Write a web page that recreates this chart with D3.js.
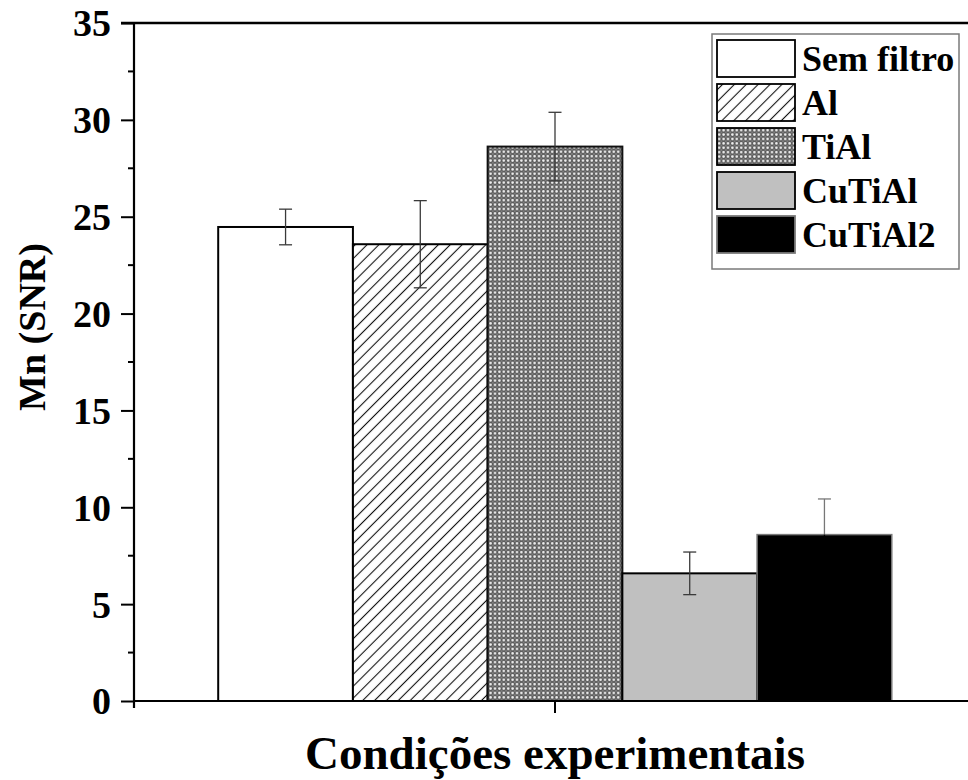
<!DOCTYPE html>
<html>
<head>
<meta charset="utf-8">
<script src="https://cdn.jsdelivr.net/npm/d3@7"></script>
<style>
  html, body { margin: 0; padding: 0; background: #fff; }
  svg { display: block; font-family: "Liberation Serif", "Times New Roman", serif; font-weight: bold; }
</style>
</head>
<body>
<svg id="chart" width="968" height="780"></svg>
<script>
// Filter conditions and Mn signal-to-noise ratio (mean and error)
const series = ["Sem filtro", "Al", "TiAl", "CuTiAl", "CuTiAl2"];
const values = [24.47, 23.58, 28.62, 6.59, 8.59];
const errors = [0.92, 2.25, 1.77, 1.10, 1.84];
const yTicks = [0, 5, 10, 15, 20, 25, 30, 35];
const category = ["Condições experimentais"];

const svg = d3.select("#chart");
const W = 968, H = 780;
const margin = { left: 134, top: 23, right: 976, bottom: 701 };

svg.append("rect").attr("width", W).attr("height", H).attr("fill", "#fff");

// Fill patterns
const defs = svg.append("defs");
const hatch = defs.append("pattern")
  .attr("id", "hatch").attr("patternUnits", "userSpaceOnUse")
  .attr("width", 8.4).attr("height", 8.4)
  .attr("patternTransform", "rotate(-45)");
hatch.append("rect").attr("width", 8.4).attr("height", 8.4).attr("fill", "#fff");
hatch.append("line").attr("x1", 0).attr("y1", 4.2).attr("x2", 8.4).attr("y2", 4.2)
  .attr("stroke", "#111").attr("stroke-width", 1.1);

const mesh = defs.append("pattern")
  .attr("id", "mesh").attr("patternUnits", "userSpaceOnUse")
  .attr("width", 4.4).attr("height", 4.4);
mesh.append("rect").attr("width", 4.4).attr("height", 4.4).attr("fill", "#5c5c5c");
mesh.append("circle").attr("cx", 2.2).attr("cy", 2.2).attr("r", 1.3).attr("fill", "#f0f0f0");
[[0,0],[4.4,0],[0,4.4],[4.4,4.4]].forEach(([cx, cy]) =>
  mesh.append("circle").attr("cx", cx).attr("cy", cy).attr("r", 0.7).attr("fill", "#a8a8a8"));

const fills = {
  "Sem filtro": "#ffffff",
  "Al": "url(#hatch)",
  "TiAl": "url(#mesh)",
  "CuTiAl": "#c0c0c0",
  "CuTiAl2": "#000000"
};
const strokes = {
  "Sem filtro": "#000", "Al": "#000", "TiAl": "#111", "CuTiAl": "#000", "CuTiAl2": "#7a7a7a"
};

// Scales
const y = d3.scaleLinear().domain([0, 35]).range([margin.bottom, margin.top]);
const x0 = d3.scaleBand().domain(category).range([margin.left, margin.right]).padding(0);
const groupW = x0.bandwidth() * 0.8;
const cx = x0(category[0]) + x0.bandwidth() / 2;
const x1 = d3.scaleBand().domain(series).range([cx - groupW / 2, cx + groupW / 2]).padding(0);

const data = series.map((s, i) => ({ name: s, v: values[i], e: errors[i] }));

// Bars
svg.append("g").selectAll("rect").data(data).join("rect")
  .attr("x", d => x1(d.name))
  .attr("y", d => y(d.v))
  .attr("width", x1.bandwidth())
  .attr("height", d => y(0) - y(d.v))
  .attr("fill", d => fills[d.name])
  .attr("stroke", d => strokes[d.name])
  .attr("stroke-width", d => d.name === "CuTiAl2" ? 1.5 : 2);

// Error bars (the lower half of the black bar's whisker blends into its fill)
const eb = svg.append("g").attr("stroke-width", 1.3).attr("fill", "none");
data.forEach(d => {
  const xc = x1(d.name) + x1.bandwidth() / 2;
  const up = d.name === "CuTiAl2" ? "#777" : "#3a3a3a";
  const down = d.name === "CuTiAl2" ? "#000" : "#3a3a3a";
  eb.append("line").attr("x1", xc).attr("x2", xc).attr("y1", y(d.v + d.e)).attr("y2", y(d.v)).attr("stroke", up);
  eb.append("line").attr("x1", xc).attr("x2", xc).attr("y1", y(d.v)).attr("y2", y(d.v - d.e)).attr("stroke", down);
  eb.append("line").attr("x1", xc - 6.5).attr("x2", xc + 6.5).attr("y1", y(d.v + d.e)).attr("y2", y(d.v + d.e)).attr("stroke", up);
  eb.append("line").attr("x1", xc - 6.5).attr("x2", xc + 6.5).attr("y1", y(d.v - d.e)).attr("y2", y(d.v - d.e)).attr("stroke", down);
});

// Y axis with major and minor ticks
const yAxis = d3.axisLeft(y).tickValues(yTicks).tickSize(13).tickPadding(10).tickFormat(d3.format("d"));
const gy = svg.append("g").attr("transform", `translate(${margin.left},0)`).call(yAxis);
gy.select(".domain").remove();
gy.selectAll(".tick line").attr("stroke", "#000").attr("stroke-width", 2);
gy.selectAll(".tick text").attr("font-size", 38).attr("fill", "#000")
  .attr("font-family", "'Liberation Serif', 'Times New Roman', serif").attr("font-weight", "bold")
  .attr("dy", "0.34em");
const minor = d3.range(2.5, 35, 5);
svg.append("g").selectAll("line").data(minor).join("line")
  .attr("x1", margin.left - 6).attr("x2", margin.left)
  .attr("y1", d => y(d)).attr("y2", d => y(d))
  .attr("stroke", "#000").attr("stroke-width", 2);

// Frame lines
svg.append("line").attr("x1", margin.left).attr("x2", margin.left).attr("y1", margin.top - 1).attr("y2", margin.bottom + 7)
  .attr("stroke", "#000").attr("stroke-width", 2.2);
svg.append("line").attr("x1", margin.left - 13).attr("x2", W).attr("y1", margin.top).attr("y2", margin.top)
  .attr("stroke", "#000").attr("stroke-width", 2.6);

// X axis
const xAxis = d3.axisBottom(x0).tickSize(12).tickFormat("");
const gx = svg.append("g").attr("transform", `translate(0,${margin.bottom})`).call(xAxis);
gx.select(".domain").remove();
gx.selectAll(".tick line").attr("stroke", "#000").attr("stroke-width", 2);
svg.append("line").attr("x1", margin.left).attr("x2", W).attr("y1", margin.bottom).attr("y2", margin.bottom)
  .attr("stroke", "#000").attr("stroke-width", 2.2);

// Axis titles
svg.append("text").attr("x", cx).attr("y", 769).attr("text-anchor", "middle")
  .attr("font-size", 47).attr("fill", "#000").text(category[0]);
svg.append("text").attr("transform", `translate(45,327) rotate(-90)`).attr("text-anchor", "middle")
  .attr("font-size", 38).attr("fill", "#000").text("Mn (SNR)");

// Legend
const lg = svg.append("g");
lg.append("rect").attr("x", 712).attr("y", 34).attr("width", 247).attr("height", 235)
  .attr("fill", "#fff").attr("stroke", "#7a7a7a").attr("stroke-width", 1.5);
const rows = lg.selectAll("g.row").data(series).join("g").attr("class", "row")
  .attr("transform", (d, i) => `translate(717,${40 + i * 44})`);
rows.append("rect").attr("width", 78).attr("height", 37)
  .attr("fill", d => fills[d]).attr("stroke", d => d === "CuTiAl2" ? "#7a7a7a" : "#000")
  .attr("stroke-width", 1.8);
rows.append("text").attr("x", 85).attr("y", 31).attr("font-size", 36).attr("fill", "#000").text(d => d);
</script>
</body>
</html>
